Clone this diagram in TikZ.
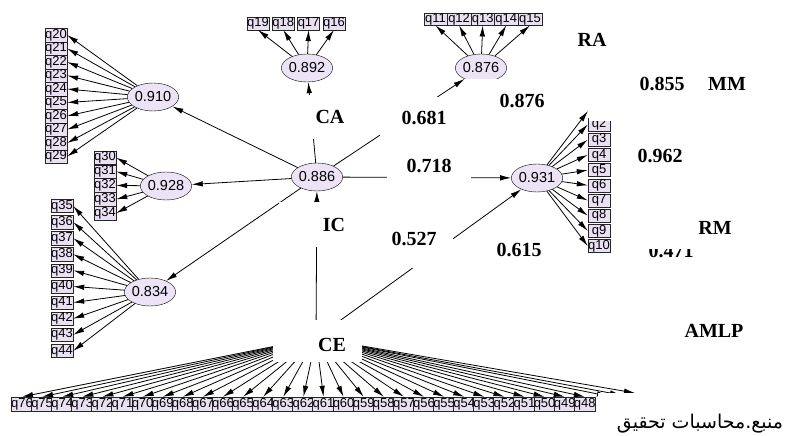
\documentclass[tikz,border=0pt]{standalone}
\usepackage{fontspec}
\setmainfont{Liberation Serif}
\setsansfont{Liberation Sans}
\newfontfamily\arabicfont[Script=Arabic]{DejaVu Sans}
\TeXXeTstate=1
\usepackage{tikz}
\usetikzlibrary{shapes.geometric, arrows.meta}
\definecolor{itemfill}{RGB}{234,224,244}
\definecolor{latentfill}{RGB}{236,228,246}
\tikzstyle{latent} = [ellipse, draw=black, fill=latentfill, minimum width=44pt, minimum height=28pt, inner sep=0pt, font=\sffamily\fontsize{14.5}{14.5}\selectfont]
\tikzstyle{indicator} = [rectangle, draw=black!85, fill=itemfill, minimum width=22pt, minimum height=13.5pt, inner sep=0pt, font=\sffamily\fontsize{13}{13}\selectfont]
\tikzstyle{arrow} = [line width=0.8pt, -{Latex[length=11pt,width=5.5pt]}]
\tikzstyle{coef} = [anchor=base, fill=white, inner sep=0pt, font=\bfseries\fontsize{20}{24}\selectfont]

\begin{document}
\begin{tikzpicture}[x=1pt, y=-1pt]
\useasboundingbox (0,0) rectangle (788,436);

% latent variables
\node (e910) [latent] at (153,97) {0.910};
\node (e928) [latent] at (166,186) {0.928};
\node (e834) [latent] at (150,292) {0.834};
\node (ic) [latent] at (317,177) {0.886};
\node (ca) [latent] at (307,68) {0.892};
\node (ra) [latent] at (481,68) {0.876};
\node (e931) [latent] at (537,178) {0.931};
\coordinate (ce) at (316,338);

% indicators
\foreach \n [count=\i from 0] in {20,...,29}
  \node (q\n) [indicator] at (56,35+13.5*\i) {q\n};
\foreach \n [count=\i from 0] in {30,...,34}
  \node (q\n) [indicator] at (105,157.6+13.9*\i) {q\n};
\foreach \n [count=\i from 0] in {35,...,44}
  \node (q\n) [indicator, minimum height=13.3pt] at (62,206+16.1*\i) {q\n};
\foreach \n [count=\i from 0] in {19,18,17,16}
  \node (q\n) [indicator, minimum height=13pt] at (258+25.3*\i,23.3) {q\n};
\foreach \n [count=\i from 0] in {11,...,15}
  \node (q\n) [indicator, minimum width=23.6pt, minimum height=12.5pt] at (435.5+23.6*\i,19) {q\n};
\foreach \n [count=\i from 0] in {2,...,10}
  \node (q\n) [indicator, minimum height=13pt] at (599,124.5+15.2*\i) {q\n};
\foreach \n [count=\i from 0] in {76,75,...,48}
  \node (q\n) [indicator, minimum width=20.1pt, minimum height=14pt] at (22+20.1*\i,404) {q\n};
\coordinate (q1) at (588,111);
\coordinate (h47) at (608,396);
\coordinate (h46) at (621,395);
\coordinate (h45) at (635,393);

% loadings
\foreach \n in {20,...,29} \draw [arrow] (e910) -- (q\n.east);
\foreach \n in {30,...,34} \draw [arrow] (e928) -- (q\n.east);
\foreach \n in {35,...,44} \draw [arrow] (e834) -- (q\n.east);
\foreach \n in {16,...,19} \draw [arrow] (ca) -- (q\n.south);
\foreach \n in {11,...,15} \draw [arrow] (ra) -- (q\n.south);
\foreach \n in {2,...,10} \draw [arrow] (e931) -- (q\n.west);
\draw [arrow] (e931) -- (q1);
\foreach \n in {76,75,...,48} \draw [arrow] (ce) -- (q\n.north);
\foreach \n in {47,46,45} \draw [arrow] (ce) -- (h\n);

% paths
\draw [arrow] (ic) -- (e910);
\draw [arrow] (ic) -- (e928);
\draw [arrow] (ic) -- (e834);
\draw [arrow] (ic) -- (ca);
\draw [arrow] (ic) -- (ra);
\draw [arrow] (ic) -- (e931);
\draw [arrow] (ce) -- (ic);
\draw [arrow] (ce) -- (e931);

% labels
\node (lRA) [coef] at (592,47) {RA};
\node (l855) [coef, minimum width=146pt, text height=27pt, text depth=30.5pt] at (662,91) {0.855};
\node (lMM) [coef] at (727,91) {MM};
\node (l876) [coef, minimum width=114pt, text height=28.5pt, text depth=13.5pt] at (522,107.5) {0.876};
\node (lCA) [coef, minimum width=72pt, text height=29pt, text depth=15pt] at (330,124) {CA};
\node (l681) [coef, minimum width=88pt, text height=27.5pt, text depth=14.5pt] at (424,124.5) {0.681};
\node (l718) [coef, minimum width=84pt, text height=22.5pt, text depth=11.5pt] at (429,172.5) {0.718};
\node (l962) [coef] at (660,162.5) {0.962};
\node (lIC) [coef, minimum width=110pt, text height=29pt, text depth=16pt] at (334,231) {IC};
\node (l527) [coef, minimum width=78pt, text height=37.5pt, text depth=22.5pt] at (414,245.5) {0.527};
\node (l615) [coef] at (519,256) {0.615};
\node (l471) [coef] at (671,257.5) {0.471};
\node (lRM) [coef, minimum width=140pt, text height=16pt, text depth=15pt] at (715,234) {RM};
\node (lAMLP) [coef] at (714,337) {AMLP};
\node (lCE) [coef, text width=57pt, align=right, inner xsep=16pt, text height=31.5pt, text depth=10.5pt] at (317.5,351.5) {CE};

% source
\node (src) [anchor=base, fill=white, inner sep=0pt, minimum width=204pt, text height=35pt, text depth=8pt, font=\arabicfont\fontsize{19}{19}\selectfont] at (700,428) {\beginR منبع.محاسبات تحقیق\endR};
\end{tikzpicture}
\end{document}
